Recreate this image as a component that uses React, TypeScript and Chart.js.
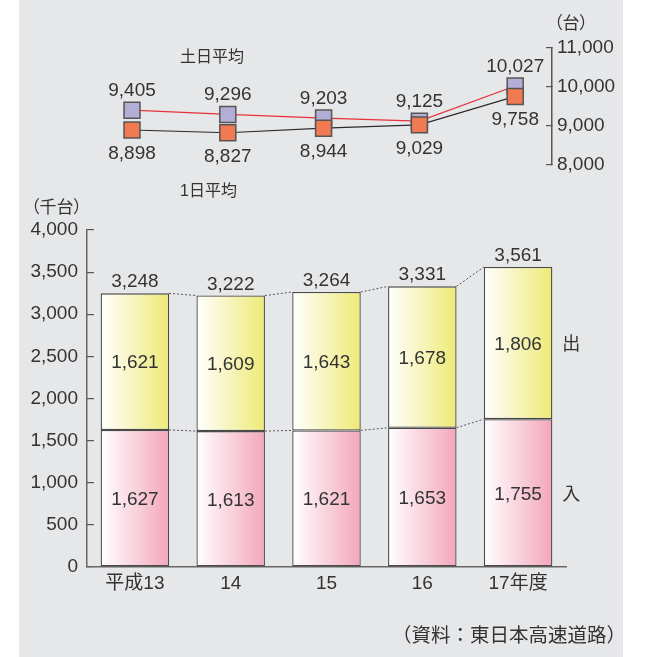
import { useEffect, useRef } from "react";
import { Chart, registerables } from "chart.js";

Chart.register(...registerables);

// 年度
const years = ["平成13", "14", "15", "16", "17年度"];
// 入 (千台)
const inbound = [1627, 1613, 1621, 1653, 1755];
// 出 (千台)
const outbound = [1621, 1609, 1643, 1678, 1806];
// 合計 (千台)
const totals = [3248, 3222, 3264, 3331, 3561];
// 土日平均 (台)
const weekendAvg = [9405, 9296, 9203, 9125, 10027];
// 1日平均 (台)
const dailyAvg = [8898, 8827, 8944, 9029, 9758];

const barAxisTicks = { min: 0, max: 4000, step: 500 };
const lineAxisTicks = { min: 8000, max: 11000, step: 1000 };

// page geometry
const W = 649;
const H = 657;
const PLOT_LEFT = 87;
const PLOT_RIGHT = 566;
const BAR_TOP = 230;
const BAR_BOTTOM = 567;
const LINE_TOP = 48;
const LINE_BOTTOM = 165;
const LINE_AXIS_X = 552;
const FIRST_POINT_X = 132;
const BAR_PCT = 0.715;

const TEXT = "#333";
const NUM_FAMILY = "'Liberation Sans', 'Noto Sans CJK JP', sans-serif";
const CJK_FAMILY = "'Noto Sans CJK JP', sans-serif";
const NUM_FONT = `19px ${NUM_FAMILY}`;
const CAP = 6.8; // half the digit height at 19px

const fmt = (v: number) => v.toLocaleString("en-US");

Chart.defaults.font.family = NUM_FAMILY;
Chart.defaults.color = TEXT;

const gradientFill = (light: string, dark: string) => (ctx: any) => {
  const chart = ctx.chart;
  const xs = chart.scales?.x;
  if (!xs || ctx.dataIndex === undefined || !chart.chartArea) return dark;
  const cx = xs.getPixelForValue(ctx.dataIndex);
  const half = ((xs.width / years.length) * BAR_PCT) / 2;
  const g = chart.ctx.createLinearGradient(cx - half, 0, cx + half, 0);
  g.addColorStop(0, light);
  g.addColorStop(1, dark);
  return g;
};

const barAnnotations = {
  id: "barAnnotations",
  beforeDatasetsDraw(chart: any) {
    // dashed connectors between the tops of neighbouring bars
    const ctx = chart.ctx;
    ctx.save();
    ctx.strokeStyle = "#555";
    ctx.lineWidth = 1;
    ctx.setLineDash([2, 2]);
    chart.data.datasets.forEach((_: any, di: number) => {
      const els = chart.getDatasetMeta(di).data;
      for (let i = 0; i < els.length - 1; i++) {
        const a = els[i].getProps(["x", "y", "width"], true);
        const b = els[i + 1].getProps(["x", "y", "width"], true);
        ctx.beginPath();
        ctx.moveTo(a.x + a.width / 2, a.y);
        ctx.lineTo(b.x - b.width / 2, b.y);
        ctx.stroke();
      }
    });
    ctx.restore();
  },
  afterDatasetsDraw(chart: any) {
    const ctx = chart.ctx;
    ctx.save();
    ctx.fillStyle = TEXT;
    ctx.textAlign = "center";
    ctx.textBaseline = "alphabetic";
    ctx.font = NUM_FONT;
    chart.data.datasets.forEach((ds: any, di: number) => {
      const els = chart.getDatasetMeta(di).data;
      els.forEach((el: any, i: number) => {
        const p = el.getProps(["x", "y", "base", "width"], true);
        ctx.fillText(fmt(ds.data[i]), p.x, (p.y + p.base) / 2 + CAP);
      });
      // series name beside the last bar
      const last = els[els.length - 1].getProps(["x", "y", "base", "width"], true);
      ctx.save();
      ctx.textAlign = "left";
      ctx.textBaseline = "middle";
      ctx.font = `18px ${CJK_FAMILY}`;
      ctx.fillText(ds.label, last.x + last.width / 2 + 10, (last.y + last.base) / 2);
      ctx.restore();
    });
    // totals above each stack
    const topEls = chart.getDatasetMeta(chart.data.datasets.length - 1).data;
    topEls.forEach((el: any, i: number) => {
      const p = el.getProps(["x", "y"], true);
      ctx.fillText(fmt(totals[i]), p.x, p.y - 6);
    });
    ctx.restore();
  },
};

const lineAnnotations = {
  id: "lineAnnotations",
  afterDatasetsDraw(chart: any) {
    const ctx = chart.ctx;
    ctx.save();
    ctx.fillStyle = TEXT;
    ctx.textAlign = "center";
    ctx.textBaseline = "alphabetic";
    ctx.font = NUM_FONT;
    chart.data.datasets.forEach((ds: any, di: number) => {
      const above = ds.labelAbove;
      chart.getDatasetMeta(di).data.forEach((el: any, i: number) => {
        const p = el.getProps(["x", "y"], true);
        const y = above ? p.y - 21 + CAP : p.y + 22 + CAP;
        ctx.fillText(fmt(ds.data[i].y), p.x, y);
      });
    });
    ctx.restore();
  },
};

const label = (
  text: string,
  left: number,
  cy: number,
  size: number,
  palt = false
) => (
  <div
    style={{
      position: "absolute",
      left,
      top: cy - size * 0.556,
      fontSize: size,
      lineHeight: 1,
      whiteSpace: "nowrap",
      color: TEXT,
      fontFamily: NUM_FAMILY,
      fontFeatureSettings: palt ? '"palt"' : "normal",
    }}
  >
    {text}
  </div>
);

export default function App() {
  const barRef = useRef<HTMLCanvasElement>(null);
  const lineRef = useRef<HTMLCanvasElement>(null);

  useEffect(() => {
    if (!barRef.current || !lineRef.current) return;

    const bar = new Chart(barRef.current, {
      type: "bar",
      data: {
        labels: years,
        datasets: [
          {
            label: "入",
            data: inbound,
            backgroundColor: gradientFill("#ffffff", "#f3a6bb"),
            borderColor: "#4a4a4a",
            borderWidth: 1.3,
            borderSkipped: false,
            barPercentage: BAR_PCT,
            categoryPercentage: 1,
          },
          {
            label: "出",
            data: outbound,
            backgroundColor: gradientFill("#ffffff", "#eeea76"),
            borderColor: "#4a4a4a",
            borderWidth: 1.3,
            borderSkipped: false,
            barPercentage: BAR_PCT,
            categoryPercentage: 1,
          },
        ],
      },
      options: {
        animation: false,
        responsive: false,
        events: [],
        layout: {
          padding: {
            left: 0,
            right: W - PLOT_RIGHT,
            top: BAR_TOP,
            bottom: H - BAR_BOTTOM - 30,
          },
        },
        plugins: { legend: { display: false }, tooltip: { enabled: false } },
        scales: {
          x: {
            stacked: true,
            grid: { display: false, drawTicks: false },
            border: { color: "#666", width: 1.5 },
            ticks: { color: TEXT, font: { size: 19 }, padding: 5 },
            afterFit: (s: any) => {
              s.height = 30;
            },
          },
          y: {
            stacked: true,
            min: barAxisTicks.min,
            max: barAxisTicks.max,
            ticks: {
              stepSize: barAxisTicks.step,
              color: TEXT,
              font: { size: 19 },
              padding: 16,
              callback: (v: any) => fmt(Number(v)),
            },
            grid: {
              drawOnChartArea: false,
              tickLength: -7,
              color: "#555",
              lineWidth: 1.2,
            },
            border: { color: "#666", width: 1.5 },
            afterFit: (s: any) => {
              s.width = PLOT_LEFT;
            },
          },
        },
      },
      plugins: [barAnnotations],
    } as any);

    const unit = (PLOT_RIGHT - PLOT_LEFT) / years.length;
    const xMin = -(FIRST_POINT_X - PLOT_LEFT) / unit;
    const xMax = xMin + (LINE_AXIS_X - PLOT_LEFT) / unit;

    const line = new Chart(lineRef.current, {
      type: "line",
      data: {
        datasets: [
          {
            label: "1日平均",
            labelAbove: false,
            data: dailyAvg.map((v, i) => ({ x: i, y: v })),
            borderColor: "#2b2b2b",
            borderWidth: 1.2,
            pointStyle: "rect",
            pointRadius: 11.3,
            pointBackgroundColor: "#f27a52",
            pointBorderColor: "#555",
            pointBorderWidth: 1.5,
          },
          {
            label: "土日平均",
            labelAbove: true,
            data: weekendAvg.map((v, i) => ({ x: i, y: v })),
            borderColor: "#e8303a",
            borderWidth: 1.2,
            pointStyle: "rect",
            pointRadius: 11.3,
            pointBackgroundColor: "#b3aed6",
            pointBorderColor: "#555",
            pointBorderWidth: 1.5,
          },
        ],
      },
      options: {
        animation: false,
        responsive: false,
        events: [],
        layout: {
          padding: {
            left: PLOT_LEFT,
            right: 0,
            top: LINE_TOP,
            bottom: H - LINE_BOTTOM,
          },
        },
        plugins: { legend: { display: false }, tooltip: { enabled: false } },
        scales: {
          x: { type: "linear", display: false, min: xMin, max: xMax },
          y: {
            position: "right",
            min: lineAxisTicks.min,
            max: lineAxisTicks.max,
            ticks: {
              stepSize: lineAxisTicks.step,
              color: TEXT,
              font: { size: 19 },
              padding: 11,
              callback: (v: any) => fmt(Number(v)),
            },
            grid: {
              drawOnChartArea: false,
              tickLength: -6,
              color: "#555",
              lineWidth: 1.2,
            },
            border: { color: "#555", width: 1.5 },
            afterFit: (s: any) => {
              s.width = W - LINE_AXIS_X;
            },
          },
        },
      },
      plugins: [lineAnnotations],
    } as any);

    return () => {
      bar.destroy();
      line.destroy();
    };
  }, []);

  return (
    <div
      style={{
        position: "absolute",
        left: 0,
        top: 0,
        width: W,
        height: H,
        background: "#ffffff",
        overflow: "hidden",
      }}
    >
      <div
        style={{
          position: "absolute",
          left: 19,
          top: 0,
          width: 604,
          height: H,
          background: "#e6e7e9",
        }}
      />
      <canvas
        ref={barRef}
        width={W}
        height={H}
        style={{ position: "absolute", left: 0, top: 0 }}
      />
      <canvas
        ref={lineRef}
        width={W}
        height={H}
        style={{ position: "absolute", left: 0, top: 0 }}
      />
      {label("（台）", 554, 24, 17, true)}
      {label("（千台）", 31, 208, 17, true)}
      {label("土日平均", 180, 58, 16)}
      {label("1日平均", 180, 192, 16)}
      {label("（資料：東日本高速道路）", 392, 637, 19.5)}
    </div>
  );
}
